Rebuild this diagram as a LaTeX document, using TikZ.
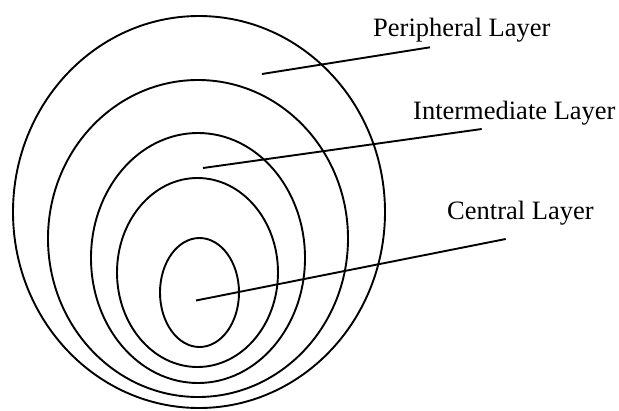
\documentclass[tikz,border=0pt]{standalone}
\usepackage{fontspec}
\setmainfont{Liberation Serif}
\begin{document}
\begin{tikzpicture}[x=1pt,y=-1pt,
  ring/.style={draw=black,line width=1.9pt},
  leader/.style={draw=black,line width=1.9pt},
  lbl/.style={anchor=base west,inner sep=0pt,font=\fontsize{26.5}{30}\selectfont}]
\useasboundingbox (0,0) rectangle (619,410);
% concentric layers
\draw[ring] (199,212) ellipse [x radius=186pt, y radius=196pt];
\draw[ring] (198,238.5) ellipse [x radius=150pt, y radius=158.5pt];
\draw[ring] (198,258) ellipse [x radius=107pt, y radius=125pt];
\draw[ring] (197.5,272.5) ellipse [x radius=80.5pt, y radius=94.5pt];
\draw[ring] (199.5,292.5) ellipse [x radius=39.5pt, y radius=54.5pt];
% labels
\node[lbl] (per) at (373,36) {Peripheral Layer};
\node[lbl] (int) at (413,119) {Intermediate Layer};
\node[lbl] (cen) at (447,219) {Central Layer};
% leader line ends
\coordinate (p1) at (262,74);
\coordinate (p2) at (430,47.3);
\coordinate (i1) at (203,168);
\coordinate (i2) at (481.7,129);
\coordinate (c1) at (196,300.5);
\coordinate (c2) at (505.7,239);
\draw[leader] (p1) -- (p2);
\draw[leader] (i1) -- (i2);
\draw[leader] (c1) -- (c2);
\end{tikzpicture}
\end{document}
